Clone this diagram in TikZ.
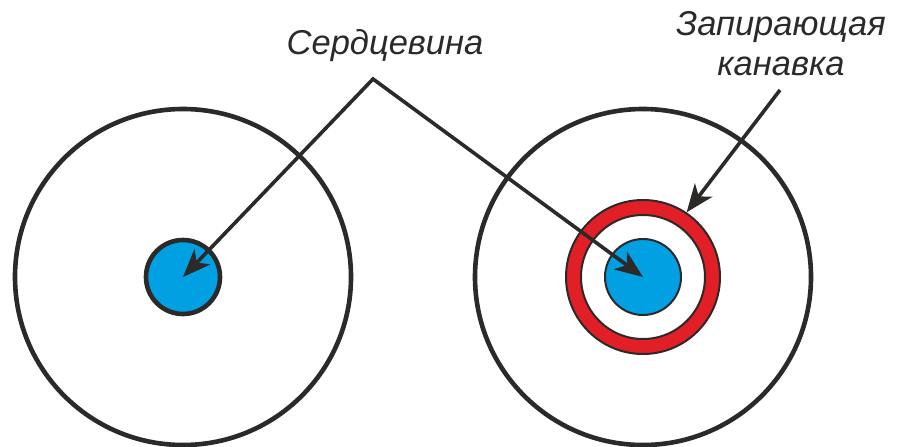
\documentclass[tikz,border=0pt]{standalone}
\usepackage{fontspec}
\setmainfont{Liberation Sans}
\usetikzlibrary{arrows.meta}
\definecolor{ink}{RGB}{43,42,41}
\definecolor{coreblue}{RGB}{0,160,227}
\definecolor{groovered}{RGB}{226,30,38}

\begin{document}
\begin{tikzpicture}[x=1pt, y=-1pt,
    >={Stealth[length=28pt, width=22pt, inset=8pt]},
    disk/.style={circle, draw=ink, line width=4.6pt, inner sep=0pt, minimum size=336pt},
    core/.style={circle, draw=ink, fill=coreblue, inner sep=0pt, minimum size=76pt},
    ring/.style={circle, draw=ink, line width=2pt, inner sep=0pt},
    lbl/.style={font=\fontsize{34.5}{40}\selectfont\itshape, text=ink, inner sep=0pt, align=center},
    arr/.style={->, line width=3.6pt, ink, miter limit=20},
  ]
  \useasboundingbox (0,0) rectangle (900,447);
  % plain disk and disk with groove
  \node[disk] (leftdisk) at (183,277) {};
  \node[disk] (rightdisk) at (643,277) {};
  \node[core, line width=4.6pt, minimum size=74pt] (leftcore) at (183,277) {};
  \node[ring, fill=groovered, minimum size=154pt] (groove) at (643,277) {};
  \node[ring, fill=white, minimum size=124pt] (land) at (643,277) {};
  \node[core, line width=2pt] (rightcore) at (643,277) {};
  % labels
  \node[lbl, anchor=base] (corelbl) at (385,54) {Сердцевина};
  \node[lbl] (groovelbl) at (781,44) {Запирающая\\канавка};
  \coordinate (apex) at (373,79);
  \coordinate (grooveend) at (780,90);
  \draw[arr, <->] (leftcore.center) -- (apex) -- (rightcore.center);
  \draw[arr] (grooveend) -- (groove.56);
\end{tikzpicture}
\end{document}
